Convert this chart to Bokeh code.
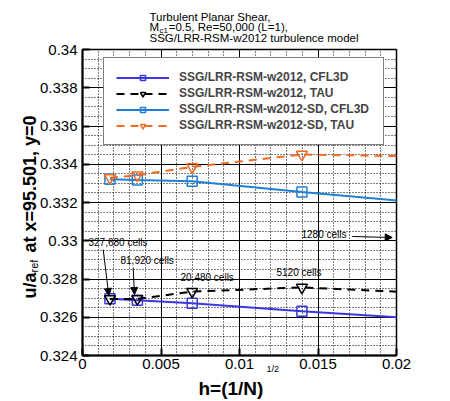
import math
from bokeh.plotting import figure
from bokeh.models import (Label, Arrow, NormalHead, Legend, LegendItem,
                          SingleIntervalTicker, CustomJSTickFormatter, Range1d)
from bokeh.embed import file_html
from bokeh.resources import INLINE

# ---------------- data ----------------
h = [0.001747, 0.003494, 0.006988, 0.013975, 0.027951]
cells = ["327,680 cells", "81,920 cells", "20,480 cells", "5120 cells", "1280 cells"]
ssg_cfl3d = [0.32697, 0.32689, 0.32673, 0.32632, 0.32558]
ssg_tau = [0.32696, 0.32696, 0.32734, 0.32756, 0.32705]
sd_cfl3d = [0.33322, 0.33318, 0.33311, 0.33255, 0.33153]
sd_tau = [0.33329, 0.33343, 0.33386, 0.33451, 0.33432]
series_names = ["SSG/LRR-RSM-w2012, CFL3D", "SSG/LRR-RSM-w2012, TAU",
                "SSG/LRR-RSM-w2012-SD, CFL3D", "SSG/LRR-RSM-w2012-SD, TAU"]
NB = "\u00a0"
title_lines = ["Turbulent Planar Shear,", "M" + NB * 3 + "=0.5, Re=50,000 (L=1),",
               "SSG/LRR-RSM-w2012 turbulence model"]
title_sub = "c1"
xlabel, xlabel_sup = "h=(1/N)", "1/2"
ylabel, ylabel_sub = "u/a" + NB * 4 + "at x=95.501, y=0", "ref"

FONT = "Liberation Sans"

p = figure(width=449, height=400, x_range=Range1d(0, 0.02), y_range=Range1d(0.324, 0.34),
           output_backend="svg", toolbar_location=None,
           min_border_left=82, min_border_right=53, min_border_top=49, min_border_bottom=45)
p.outline_line_color = "black"
p.outline_line_width = 1.5
p.background_fill_color = "white"

# page pixel -> data helpers for annotation placement inside the frame
def dx(X):
    return (X - 82) / (396 - 82) * 0.02

def dy(Y):
    return 0.34 - (Y - 49) / (355 - 49) * 0.016

xt = SingleIntervalTicker(interval=0.005, num_minor_ticks=5)
yt = SingleIntervalTicker(interval=0.002, num_minor_ticks=4)
fmt = "return String(Number(tick.toFixed(4)))"
for ax, t, so in ((p.xaxis[0], xt, 3), (p.yaxis[0], yt, 5)):
    ax.ticker = t
    ax.formatter = CustomJSTickFormatter(code=fmt)
    ax.major_label_text_font = FONT
    ax.major_label_text_font_size = "15px"
    ax.major_label_text_color = "black"
    ax.major_label_standoff = so
    ax.axis_line_width = 2
    ax.axis_line_color = "black"
    ax.major_tick_in = 7
    ax.major_tick_out = 0
    ax.major_tick_line_width = 2
    ax.major_tick_line_color = "black"
    ax.minor_tick_in = 0
    ax.minor_tick_out = 0

p.xgrid[0].ticker = xt
p.ygrid[0].ticker = yt
for g in (p.xgrid[0], p.ygrid[0]):
    g.grid_line_color = "black"
    g.grid_line_width = 1
    g.grid_line_alpha = 1
    g.minor_grid_line_color = "black"
    g.minor_grid_line_dash = "1 2"
    g.minor_grid_line_width = 1

colors = ["#3838e0", "black", "#1f80d8", "#ef6a22"]
dashes = ["solid", "8 6", "solid", "8 6"]
markers = ["square", "inverted_triangle", "square", "inverted_triangle"]
msize = [10, 11, 10, 11]
items = []
for name, ys, c, d, m, s in zip(series_names, [ssg_cfl3d, ssg_tau, sd_cfl3d, sd_tau],
                                colors, dashes, markers, msize):
    l = p.line(h, ys, line_color=c, line_width=2, line_dash=d)
    sc = p.scatter(h, ys, marker=m, size=s, line_color=c, line_width=1.5, fill_color=None)
    items.append(LegendItem(label=name, renderers=[l, sc]))

legend = Legend(items=items, location=(21, 210), padding=12, spacing=2,
                glyph_width=53, glyph_height=13, label_height=13, label_width=192,
                label_standoff=10, margin=0,
                border_line_color="black", border_line_width=1.5,
                background_fill_color="white", background_fill_alpha=1,
                label_text_font=FONT, label_text_font_style="bold",
                label_text_font_size="12px")
p.add_layout(legend)

# cell-count annotations (inside the frame, data coordinates)
cell_pos = [(88, 242), (120, 260), (180, 277), (276, 272), (301, 234)]
for txt, (X, Y) in zip(cells, cell_pos):
    p.add_layout(Label(x=dx(X), y=dy(Y), text=txt, text_font=FONT, text_font_size="10px",
                       text_baseline="middle", text_align="left", text_color="black"))

arrows = [((102.7, 249), (108.3, 295)), ((132.7, 267), (134, 294)), ((351.7, 236), (391.7, 237))]
for (a, b) in arrows:
    p.add_layout(Arrow(x_start=dx(a[0]), y_start=dy(a[1]), x_end=dx(b[0]), y_end=dy(b[1]),
                       line_color="black", line_width=1,
                       end=NormalHead(size=7, fill_color="black", line_color="black")))

# texts outside the frame: canvas-unit labels placed in side panels
def lab(side, text, X, Y, size, style="normal", baseline="middle", angle=0.0):
    p.add_layout(Label(x=X, y=Y, x_units="canvas", y_units="canvas", text=text,
                       text_font=FONT, text_font_size=size, text_font_style=style,
                       text_baseline=baseline, text_align="left", text_color="black",
                       angle=angle), side)

lab("above", title_lines[0], 149, 16, "11.5px")
lab("above", title_lines[1], 149, 26.5, "11.5px")
lab("above", title_lines[2], 149, 37.5, "11.5px")
lab("right", title_sub, 159, 30, "8px")

lab("below", xlabel, 198, 388, "19px", "bold", "alphabetic")
lab("right", xlabel_sup, 266, 368, "9px", "normal", "alphabetic")
lab("left", ylabel, 29.5, 298, "18px", "bold", "alphabetic", math.pi / 2)
lab("right", ylabel_sub, 33.5, 272, "11px", "normal", "alphabetic", math.pi / 2)

open("out.html", "w").write(file_html(p, INLINE))
